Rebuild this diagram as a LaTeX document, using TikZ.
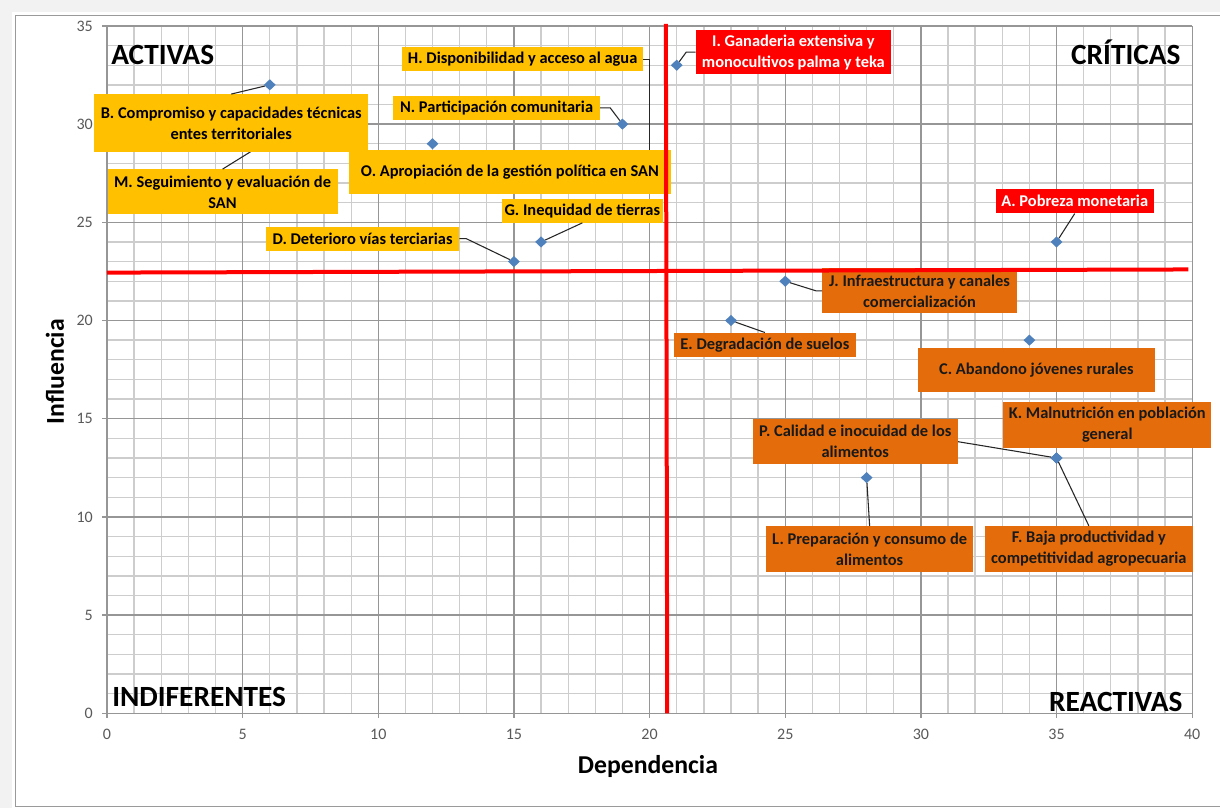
\documentclass[tikz,border=0pt]{standalone}
\usepackage{fontspec}
\setmainfont{Carlito}
\usetikzlibrary{shapes.geometric}
\definecolor{amarillo}{HTML}{FFC000}
\definecolor{naranja}{HTML}{E46C0A}
\definecolor{rojo}{HTML}{FF0000}
\definecolor{azul}{HTML}{4F81BD}
\definecolor{rejilla}{HTML}{CDCDCD}
\definecolor{rejillamayor}{HTML}{969696}
\definecolor{marco}{HTML}{9A9A9A}
\definecolor{fondo}{HTML}{F2F2F2}
\definecolor{ejes}{HTML}{595959}

\begin{document}
\begin{tikzpicture}[x=20.3475pt, y=14.73pt,
        etiq/.style={inner sep=0pt, align=center, font=\fontsize{12.3}{15.75}\selectfont\bfseries},
        amar/.style={etiq, fill=amarillo, text=black},
        nar/.style={etiq, fill=naranja, text=black!90},
        roj/.style={etiq, fill=rojo, text=white},
        punto/.style={diamond, fill=azul, inner sep=0pt, minimum width=9pt, minimum height=8.5pt},
        guia/.style={black!85, line width=0.8pt},
        marca/.style={font=\fontsize{12}{14}\selectfont, text=ejes, inner sep=0pt},
        titulo/.style={font=\fontsize{19.3}{22}\selectfont\bfseries, inner sep=0pt},
        cuadrante/.style={font=\fontsize{22}{26}\selectfont\bfseries, inner sep=0pt},
        corte/.style={rojo, line width=3pt}]
        \useasboundingbox (-3.944,-4.822) rectangle (41.025,36.32);
        % Background
        \fill[fondo] (-3.944,-4.822) rectangle (41.025,36.32);
        \fill[white] (-3.50,-4.822) rectangle (41.025,35.71);
        \draw[marco, line width=0.8pt] (-3.365,-4.756) rectangle (41.5,35.52);
        % Grid
        \draw[rejilla, line width=1pt, step=1] (0,0) grid (40,35);
        \draw[rejillamayor, line width=1pt, step=5] (0,0) grid (40,35);
        % Axes
        \draw[rejillamayor, line width=1pt] (0,35) -- (0,0) -- (40,0);
        \foreach \v in {0,5,...,35} {
            \draw[rejillamayor, line width=1pt] (0,\v) -- ++(-3.75pt,0);
            \node[marca, anchor=east] at (-0.516,\v) {\v};
        }
        \foreach \v in {0,5,...,40} {
            \draw[rejillamayor, line width=1pt] (\v,0) -- ++(0,-3.75pt);
            \node[marca] at (\v,-1.05) {\v};
        }
        \node[titulo, rotate=90] at (-1.917,17.40) {Influencia};
        \node[titulo] at (19.94,-2.72) {Dependencia};

        % Points
        \foreach \n/\x/\y in {A/35/24, B/6/32, C/34/19, D/15/23, E/23/20, F/35/13,
            G/16/24, H/20/28, I/21/33, J/25/22, K/35/13, L/28/12, M/6/29.2,
            N/19/30, O/12/29, P/35/13}
            \node[punto] (p\n) at (\x,\y) {};

        % Labels
        \node[roj, minimum width=146.25pt, minimum height=33pt] (lI) at (25.30,33.67) {I. Ganaderia extensiva y\\monocultivos palma y teka};
        \node[roj, minimum width=118.7pt, minimum height=18pt] (lA) at (35.67,26.07) {A. Pobreza monetaria};
        \node[amar, minimum width=180.3pt, minimum height=17.8pt] (lH) at (15.32,33.31) {H. Disponibilidad y acceso al agua};
        \node[amar, minimum width=155pt, minimum height=18.2pt] (lN) at (14.36,30.83) {N. Participación comunitaria};
        \node[amar, minimum width=172.5pt, minimum height=33.75pt] (lM) at (4.26,26.55) {M. Seguimiento y evaluación de\\SAN};
        \node[amar, minimum width=120.75pt, minimum height=17.55pt] (lG) at (17.52,25.58) {G. Inequidad de tierras};
        \node[amar, minimum width=145pt, minimum height=18pt] (lD) at (9.42,24.17) {D. Deterioro vías terciarias};
        \node[nar, minimum width=145.8pt, minimum height=33.75pt] (lJ) at (29.95,21.51) {J. Infraestructura y canales\\comercialización};
        \node[nar, minimum width=136pt, minimum height=18.45pt] (lE) at (24.25,18.75) {E. Degradación de suelos};
        \node[nar, minimum width=177.7pt, minimum height=32.55pt] (lC) at (34.26,17.48) {C. Abandono jóvenes rurales};
        \node[nar, minimum width=156.2pt, minimum height=34pt] (lK) at (36.87,14.68) {K. Malnutrición en población\\general};
        \node[nar, minimum width=153.9pt, minimum height=33.5pt] (lP) at (27.58,13.83) {P. Calidad e inocuidad de los\\alimentos};
        \node[nar, minimum width=154.7pt, minimum height=34.3pt] (lL) at (28.11,8.37) {L. Preparación y consumo de\\alimentos};
        \node[nar, minimum width=155.9pt, minimum height=34.3pt] (lF) at (36.19,8.37) {F. Baja productividad y\\competitividad agropecuaria};

        % Leader lines
        \draw[guia] (pI) -- ([xshift=-7pt]lI.west) -- (lI.west);
        \draw[guia] (lA.south) -- (pA);
        \draw[guia] (lH.east) -| (pH);
        \draw[guia] (lN.east) -- ([xshift=7.5pt]lN.east) -- (pN);
        \draw[guia] (lM.north) -- (pM);
        \draw[guia] (lG.south) -- (pG);
        \draw[guia] (lD.east) -- ([xshift=5pt]lD.east) -- (pD);
        \draw[guia] (lJ.west) -- ([xshift=-4.5pt]lJ.west) -- (pJ);
        \draw[guia] (lE.north) -- (pE);
        \draw[guia] (lP.east) -- (pP);
        \draw[guia] (lL.north) -- (pL);
        \draw[guia] (lF.north) -- (pF);

        % Labels over hidden points
        \node[amar, minimum width=205.5pt, minimum height=43.5pt] (lB) at (4.58,30.04) {B. Compromiso y capacidades técnicas\\entes territoriales};
        \node[amar, minimum width=241pt, minimum height=33.2pt] (lO) at (14.85,27.55) {O. Apropiación de la gestión política en SAN};
        \draw[guia] (lB.north) -- (pB);

        % Cut lines
        \draw[corte] (20.6,35.1) -- (20.65,0);
        \draw[corte] (0,22.44) -- (39.86,22.6);

        % Quadrants
        \node[cuadrante, anchor=base west] at (0.147,33.06) {ACTIVAS};
        \node[cuadrante, anchor=base east] at (39.58,33.06) {CRÍTICAS};
        \node[cuadrante, anchor=base west] at (0.184,0.336) {INDIFERENTES};
        \node[cuadrante, anchor=base east] at (39.65,0.117) {REACTIVAS};
\end{tikzpicture}
\end{document}
